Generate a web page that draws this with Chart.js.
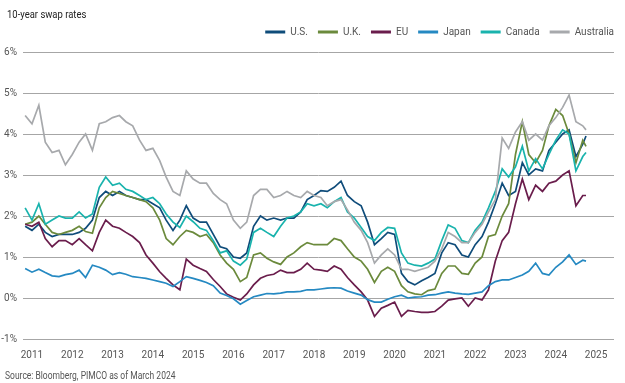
<!DOCTYPE html>
<html>
<head>
<meta charset="utf-8">
<script src="https://cdn.jsdelivr.net/npm/chart.js@4.4.1/dist/chart.umd.min.js"></script>
<style>
  html, body { margin: 0; padding: 0; background: #ffffff; }
  #wrap { position: relative; width: 625px; height: 383px; overflow: hidden; }
  #cv { position: absolute; left: 0; top: 0; }
  #title { position: absolute; left: 7px; top: 8px; font: 11px 'Roboto', sans-serif; color: #222; white-space: nowrap; transform: scaleX(0.86); transform-origin: left center; }
  #source { position: absolute; left: 5px; top: 370px; font: 10px 'Roboto', sans-serif; color: #555; white-space: nowrap; transform: scaleX(0.85); transform-origin: left center; }
</style>
</head>
<body>
<div id="wrap">
  <canvas id="cv" width="625" height="383"></canvas>
  <div id="title">10-year swap rates</div>
  <div id="source">Source: Bloomberg, PIMCO as of March 2024</div>
</div>
<script>
// Sample dates (decimal years, roughly every two months)
const dates = [
  2010.83,
  2011.00, 2011.17, 2011.33, 2011.50, 2011.67, 2011.83,
  2012.00, 2012.17, 2012.33, 2012.50, 2012.67, 2012.83,
  2013.00, 2013.17, 2013.33, 2013.50, 2013.67, 2013.83,
  2014.00, 2014.17, 2014.33, 2014.50, 2014.67, 2014.83,
  2015.00, 2015.17, 2015.33, 2015.50, 2015.67, 2015.83,
  2016.00, 2016.17, 2016.33, 2016.50, 2016.67, 2016.83,
  2017.00, 2017.17, 2017.33, 2017.50, 2017.67, 2017.83,
  2018.00, 2018.17, 2018.33, 2018.50, 2018.67, 2018.83,
  2019.00, 2019.17, 2019.33, 2019.50, 2019.67, 2019.83,
  2020.00, 2020.17, 2020.33, 2020.50, 2020.67, 2020.83,
  2021.00, 2021.17, 2021.33, 2021.50, 2021.67, 2021.83,
  2022.00, 2022.17, 2022.33, 2022.50, 2022.67, 2022.83,
  2023.00, 2023.17, 2023.33, 2023.50, 2023.67, 2023.83,
  2024.00, 2024.17, 2024.33, 2024.50, 2024.67,
  2024.75
];

const seriesNames = ['U.S.', 'U.K.', 'EU', 'Japan', 'Canada', 'Australia'];

const us = [
  1.75,
  1.65, 1.8, 1.6, 1.5, 1.55, 1.55,
  1.55, 1.6, 1.7, 1.9, 2.45, 2.6,
  2.5, 2.6, 2.5, 2.45, 2.4, 2.4,
  2.3, 2.2, 1.9, 1.65, 1.9, 2.25,
  1.95, 1.85, 1.85, 1.55, 1.25, 1.2,
  1.0, 0.97, 1.1, 1.75, 2.0, 1.9,
  1.95, 1.9, 1.95, 1.95, 2.1, 2.4,
  2.5, 2.62, 2.6, 2.7, 2.85, 2.5,
  2.35, 2.25, 1.85, 1.3, 1.45, 1.6,
  1.55, 0.6, 0.4, 0.32, 0.42, 0.5,
  0.6, 1.1, 1.35, 1.3, 1.05, 1.0,
  1.3, 1.5, 1.85, 2.3, 2.8, 2.5,
  2.6, 3.3, 3.0, 3.15, 3.1, 3.6,
  3.8, 4.0, 4.1, 3.45, 3.75,
  3.95
];

const uk = [
  1.8,
  1.85, 2.0, 1.8, 1.6, 1.55, 1.6,
  1.65, 1.75, 1.62, 1.58, 2.2, 2.45,
  2.6, 2.55, 2.5, 2.45, 2.4, 2.35,
  2.2, 1.9, 1.45, 1.3, 1.5, 1.65,
  1.6, 1.5, 1.55, 1.35, 1.05, 0.85,
  0.7, 0.4, 0.5, 1.05, 1.1, 0.97,
  0.88, 0.82, 1.0, 1.1, 1.25, 1.35,
  1.3, 1.3, 1.3, 1.45, 1.4, 1.2,
  1.0, 0.9, 0.7, 0.38, 0.65, 0.75,
  0.65, 0.3, 0.15, 0.1, 0.08, 0.18,
  0.22, 0.6, 0.78, 0.78, 0.6, 0.58,
  0.85, 1.0, 1.5, 1.55, 2.0, 2.3,
  3.5, 4.3, 3.5, 3.3, 3.6, 4.2,
  4.6, 4.45, 4.0, 3.3, 3.85,
  3.7
];

const eu = [
  1.8,
  1.75, 1.85, 1.45, 1.25, 1.4, 1.4,
  1.3, 1.45, 1.3, 1.15, 1.6, 1.9,
  1.75, 1.7, 1.6, 1.5, 1.35, 1.05,
  0.85, 0.64, 0.48, 0.32, 0.2, 0.95,
  0.8, 0.72, 0.65, 0.45, 0.28, 0.1,
  0.02, -0.05, 0.1, 0.32, 0.48, 0.55,
  0.58, 0.68, 0.62, 0.62, 0.7, 0.85,
  0.7, 0.68, 0.65, 0.78, 0.7, 0.5,
  0.32, 0.15, -0.05, -0.45, -0.25, -0.18,
  -0.1, -0.45, -0.3, -0.33, -0.35, -0.35,
  -0.33, -0.2, -0.05, -0.02, 0.0, -0.2,
  0.0, -0.05, 0.2, 0.9, 1.4, 1.6,
  2.3, 2.9, 2.4, 2.75, 2.6, 2.8,
  2.85, 3.0, 3.1, 2.25, 2.5,
  2.5
];

const japan = [
  0.72,
  0.63, 0.7, 0.62, 0.54, 0.52, 0.57,
  0.6, 0.68, 0.5, 0.8, 0.75, 0.68,
  0.57, 0.62, 0.58, 0.52, 0.5, 0.48,
  0.44, 0.4, 0.36, 0.28, 0.4, 0.52,
  0.48, 0.43, 0.38, 0.3, 0.12, 0.06,
  -0.02, -0.15, -0.06, 0.03, 0.07, 0.11,
  0.1, 0.12, 0.15, 0.15, 0.16, 0.2,
  0.2, 0.22, 0.24, 0.25, 0.24, 0.17,
  0.12, 0.07, -0.04, -0.1, -0.1, -0.03,
  0.03, 0.07, 0.0, 0.02, 0.03, 0.07,
  0.08, 0.12, 0.15, 0.12, 0.1, 0.09,
  0.12, 0.15, 0.3, 0.4, 0.44, 0.44,
  0.5, 0.56, 0.65, 0.85, 0.6, 0.56,
  0.75, 0.88, 1.05, 0.82, 0.92,
  0.9
];

const canada = [
  2.2,
  1.9, 2.3, 1.8, 1.9, 2.0, 1.95,
  1.95, 2.1, 1.95, 2.05, 2.7, 2.95,
  2.75, 2.8, 2.65, 2.6, 2.5, 2.4,
  2.45, 2.3, 2.05, 1.85, 1.72, 2.0,
  1.86, 1.7, 1.65, 1.4, 1.1, 1.15,
  0.9, 0.8, 0.95, 1.6, 1.7, 1.6,
  1.5, 1.75, 1.95, 2.0, 2.1, 2.3,
  2.25, 2.3, 2.2, 2.35, 2.45, 2.1,
  1.95, 1.72, 1.5, 1.4, 1.6, 1.72,
  1.7, 1.1, 0.85, 0.8, 0.78, 0.85,
  0.95, 1.4, 1.78, 1.7, 1.4, 1.35,
  1.65, 1.85, 2.2, 2.6, 3.15, 2.95,
  3.2, 3.7, 3.1, 3.4, 3.15, 3.5,
  3.85, 4.1, 4.0, 3.1, 3.45,
  3.55
];

const australia = [
  4.45,
  4.25, 4.7, 3.8, 3.55, 3.6, 3.25,
  3.5, 3.8, 4.0, 3.6, 4.25, 4.3,
  4.4, 4.45, 4.3, 4.2, 3.85, 3.6,
  3.65, 3.35, 2.95, 2.6, 2.5, 3.1,
  2.9, 2.8, 2.8, 2.55, 2.4, 2.3,
  1.9, 1.7, 1.85, 2.5, 2.65, 2.65,
  2.45, 2.5, 2.6, 2.5, 2.45, 2.6,
  2.5, 2.45, 2.25, 2.35, 2.4, 2.15,
  1.85, 1.65, 1.35, 0.85, 1.05, 1.2,
  1.05, 0.7, 0.7, 0.65, 0.7, 0.75,
  0.9, 1.2, 1.6, 1.5, 1.35, 1.35,
  1.6, 1.8, 2.1, 2.4, 3.9, 3.65,
  4.05, 4.3, 3.85, 4.0, 3.85, 4.2,
  4.4, 4.65, 4.95, 4.3, 4.2,
  4.1
];

const yearTicks = [2011, 2012, 2013, 2014, 2015, 2016, 2017, 2018, 2019, 2020, 2021, 2022, 2023, 2024, 2025];
const yTicks = [-1, 0, 1, 2, 3, 4, 5, 6];

const colors = ['#0f4c7a', '#6b8a3c', '#6a1d4c', '#2589c2', '#19b3ad', '#a7a9ac'];
const values = [us, uk, eu, japan, canada, australia];

const FONT = "'Roboto', sans-serif";

const datasets = seriesNames.map((name, s) => ({
  label: name,
  data: dates.map((d, i) => ({ x: d, y: values[s][i] })),
  borderColor: colors[s],
  backgroundColor: colors[s],
  borderWidth: 1.7,
  pointRadius: 0,
  tension: 0,
  fill: false,
  order: seriesNames.length - 1 - s
}));

const legendShift = {
  id: 'legendShift',
  afterLayout(chart) {
    const lg = chart.legend;
    if (!lg) return;
    const p = lg.options.labels.padding;
    lg.left += p; lg.right += p;
    lg.top -= 5; lg.bottom -= 5;
  }
};

new Chart(document.getElementById('cv'), {
  type: 'line',
  data: { datasets },
  plugins: [legendShift],
  options: {
    responsive: false,
    animation: false,
    devicePixelRatio: 1,
    layout: { padding: { top: 22, right: 11, bottom: 0, left: 0 } },
    plugins: {
      title: { display: false },
      tooltip: { enabled: false },
      legend: {
        display: true,
        position: 'top',
        align: 'end',
        labels: {
          boxWidth: 20,
          boxHeight: 3,
          padding: 10,
          color: '#555',
          font: { family: FONT, size: 10 },
          sort: (a, b) => a.datasetIndex - b.datasetIndex,
          generateLabels: (chart) => Chart.defaults.plugins.legend.labels.generateLabels(chart)
            .map(l => Object.assign({}, l, { lineWidth: 0, fillStyle: l.strokeStyle }))
        }
      }
    },
    scales: {
      x: {
        type: 'linear',
        min: 2010.777,
        max: 2025.445,
        grid: { display: false },
        border: { display: false },
        afterBuildTicks: (axis) => { axis.ticks = yearTicks.map(v => ({ value: v })); },
        afterFit: (axis) => { axis.height = 44; },
        ticks: {
          autoSkip: false,
          maxRotation: 0,
          padding: 2,
          color: '#555',
          font: { family: FONT, size: 10 },
          callback: (v) => String(v)
        }
      },
      y: {
        min: -1,
        max: 6,
        grid: { color: '#a6a6a6', lineWidth: 1, drawTicks: false },
        border: { display: false },
        afterBuildTicks: (axis) => { axis.ticks = yTicks.map(v => ({ value: v })); },
        afterFit: (axis) => { axis.width = 23; },
        ticks: {
          padding: 6,
          color: '#555',
          font: { family: FONT, size: 10 },
          callback: (v) => v + '%'
        }
      }
    }
  }
});
</script>
</body>
</html>
